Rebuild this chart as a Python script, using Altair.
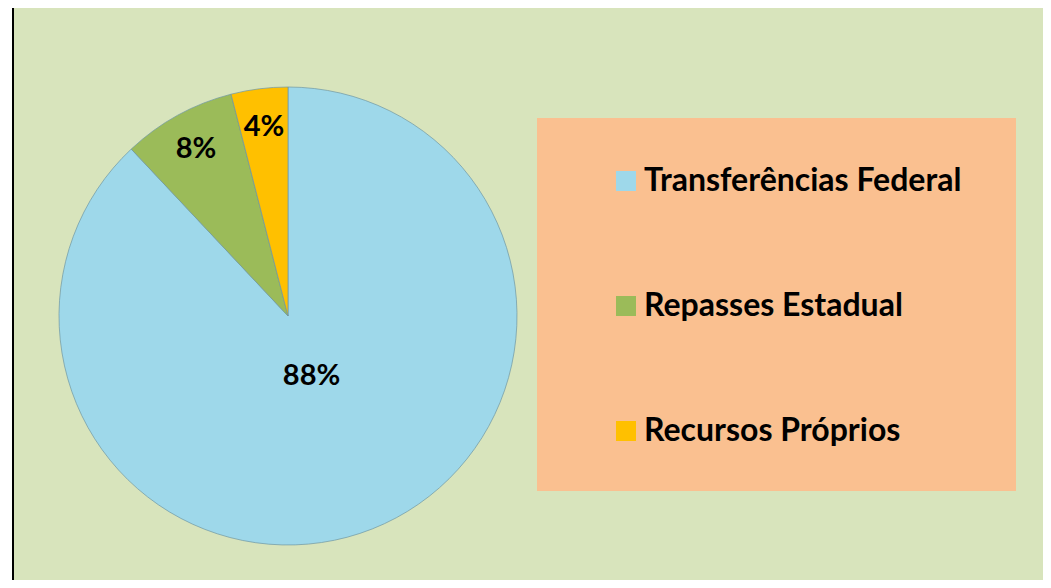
import altair as alt
import pandas as pd

categories = ["Transferências Federal", "Repasses Estadual", "Recursos Próprios"]
values = [88, 8, 4]
colors = ["#9ED8EA", "#9BBB59", "#FFC000"]

df = pd.DataFrame({"category": categories, "value": values, "idx": list(range(len(categories)))})
one = pd.DataFrame({"k": [0]})

W, H = 1035, 572
CX, CY, R = 280, 308, 229

white_strip = alt.Chart(one).mark_rect(color="white").encode(
    x=alt.value(0), x2=alt.value(4), y=alt.value(0), y2=alt.value(H))
border = alt.Chart(one).mark_rect(color="black").encode(
    x=alt.value(4), x2=alt.value(6), y=alt.value(0), y2=alt.value(H))
legend_box = alt.Chart(one).mark_rect(color="#FAC090").encode(
    x=alt.value(529), x2=alt.value(1008), y=alt.value(110), y2=alt.value(483))

pie = alt.Chart(df).mark_arc(outerRadius=R, stroke="#6f97a3", strokeWidth=1, strokeOpacity=0.7).encode(
    theta=alt.Theta("value:Q", stack=True),
    order=alt.Order("idx:Q"),
    x=alt.value(CX),
    y=alt.value(CY),
    color=alt.Color(
        "category:N",
        scale=alt.Scale(domain=categories, range=colors),
        sort=categories,
        legend=alt.Legend(
            title=None,
            orient="none",
            legendX=602,
            legendY=157,
            symbolType="square",
            symbolSize=400,
            symbolStrokeWidth=0,
            labelFont="Lato",
            labelFontSize=32,
            labelFontWeight="bold",
            labelColor="black",
            labelOffset=2,
            rowPadding=93,
            padding=0,
            labelLimit=600,
        ),
    ),
)

labels = alt.Chart(df).transform_window(
    cum="sum(value)", sort=[alt.SortField("idx")], frame=[None, 0]
).transform_calculate(
    mid="datum.cum - datum.value / 2",
    label="datum.value + '%'",
    r="datum.value > 50 ? 64 : 191",
).mark_text(font="Lato", fontSize=29, fontWeight="bold", color="black", baseline="middle", align="center").encode(
    theta=alt.Theta("mid:Q", stack=None, scale=alt.Scale(domain=[0, 100])),
    radius=alt.Radius("r:Q", scale=None),
    text="label:N",
    x=alt.value(CX),
    y=alt.value(CY),
)

chart = alt.layer(white_strip, border, legend_box, pie, labels).properties(
    width=W, height=H,
    autosize=alt.AutoSizeParams(type="fit", contains="padding"),
    padding=0,
    background="#D8E4BC",
).configure_view(stroke=None)

chart.save("out.html", embed_options={"renderer": "svg", "actions": False})
